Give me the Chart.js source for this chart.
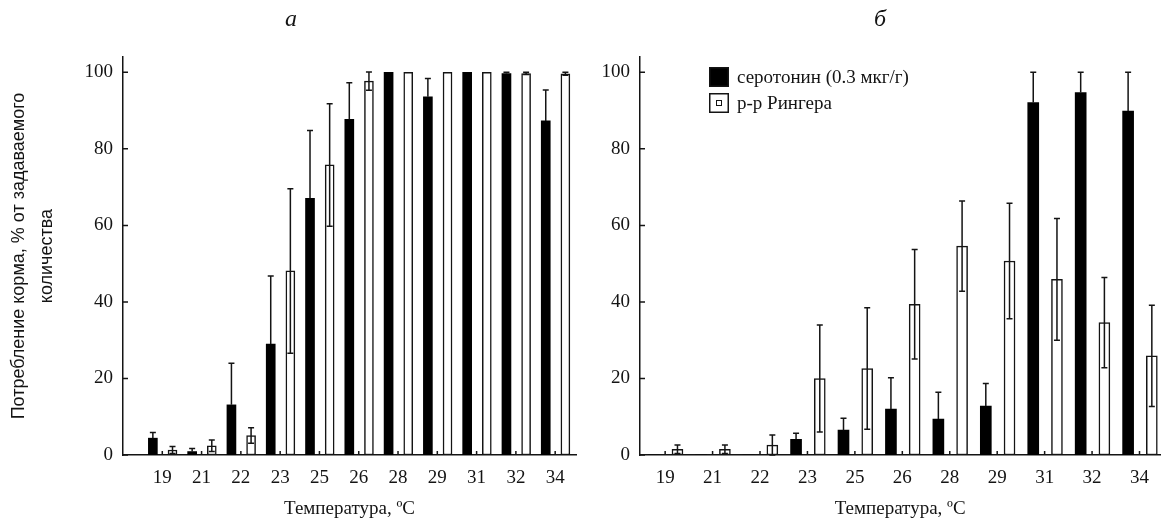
<!DOCTYPE html>
<html lang="ru">
<head>
<meta charset="UTF-8">
<title>Потребление корма</title>
<script src="https://cdn.jsdelivr.net/npm/chart.js"></script>
<style>
  html, body { margin: 0; padding: 0; background: #fff; }
  #wrap { position: relative; width: 1161px; height: 521px; overflow: hidden; }
  .box { position: absolute; top: 0; height: 521px; }
</style>
</head>
<body>
<div id="wrap">
  <div class="box" style="left:0;width:590px"><canvas id="chartA"></canvas></div>
  <div class="box" style="left:590px;width:571px"><canvas id="chartB"></canvas></div>
</div>
<script>
// температуры (подписи оси X)
const temps = ['19', '21', '22', '23', '25', '26', '28', '29', '31', '32', '34'];
const yTicks = [0, 20, 40, 60, 80, 100];

// панель а
const serA     = [4.4, 0.9, 13.1, 29.0, 67.1, 87.7, 100, 93.6, 100, 99.7, 87.3];
const serAErr  = [1.5, 0.8, 10.9, 17.8, 17.7, 9.6, 0, 4.8, 0, 0.3, 8.1];
const ringA    = [1.3, 2.4, 5.1, 48.1, 75.8, 97.7, 100, 100, 100, 99.7, 99.6];
const ringAErr = [0.9, 1.5, 2.0, 21.5, 16.0, 2.4, 0, 0, 0, 0.3, 0.4];

// панель б
const serB     = [0, 0, 0, 4.1, 6.5, 12.0, 9.4, 12.8, 92.1, 94.7, 89.9];
const serBErr  = [0, 0, 0, 1.6, 3.1, 8.2, 7.0, 5.9, 7.9, 5.3, 10.1];
const ringB    = [1.5, 1.5, 2.6, 20.0, 22.6, 39.4, 54.6, 50.7, 45.9, 34.6, 25.9];
const ringBErr = [1.1, 1.1, 2.6, 14.0, 15.9, 14.3, 11.8, 15.1, 15.9, 11.8, 13.2];

const serLabel = 'серотонин (0.3 мкг/г)';
const ringLabel = 'р-р Рингера';

const INK = '#141414';
const SERIF = 'Liberation Serif, Times New Roman, serif';

// усы погрешностей; у чёрных столбиков нижний ус всё равно не виден
const errorBars = {
  id: 'errorBars',
  afterDatasetsDraw(chart) {
    const ctx = chart.ctx, ys = chart.scales.y;
    chart.data.datasets.forEach((ds, di) => {
      chart.getDatasetMeta(di).data.forEach((bar, i) => {
        const e = ds.errors[i];
        if (!e) return;
        const v = ds.data[i].y;
        const top = ys.getPixelForValue(v + e);
        const bot = ds.solid ? ys.getPixelForValue(v) : ys.getPixelForValue(Math.max(v - e, 0));
        ctx.save();
        ctx.strokeStyle = INK;
        ctx.lineWidth = 1.5;
        ctx.beginPath();
        ctx.moveTo(bar.x, top); ctx.lineTo(bar.x, bot);
        ctx.moveTo(bar.x - 3, top); ctx.lineTo(bar.x + 3, top);
        if (!ds.solid) { ctx.moveTo(bar.x - 3, bot); ctx.lineTo(bar.x + 3, bot); }
        ctx.stroke();
        ctx.restore();
      });
    });
  }
};

// короткие засечки внутрь области графика
const innerTicks = {
  id: 'innerTicks',
  afterDraw(chart) {
    const ctx = chart.ctx, xs = chart.scales.x, ys = chart.scales.y;
    const a = chart.chartArea;
    ctx.save();
    ctx.strokeStyle = INK;
    ctx.lineWidth = 1.5;
    ctx.beginPath();
    xs.ticks.forEach(t => {
      const px = xs.getPixelForValue(t.value);
      ctx.moveTo(px, a.bottom); ctx.lineTo(px, a.bottom - 4);
    });
    ys.ticks.forEach(t => {
      const py = ys.getPixelForValue(t.value);
      ctx.moveTo(a.left, py); ctx.lineTo(a.left + 5, py);
    });
    ctx.stroke();
    ctx.restore();
  }
};

// буква панели и легенда
const panelDecor = {
  id: 'panelDecor',
  afterDraw(chart, args, opts) {
    const ctx = chart.ctx;
    ctx.save();
    ctx.fillStyle = INK;
    ctx.font = 'italic 24px ' + SERIF;
    ctx.textAlign = 'center';
    ctx.textBaseline = 'middle';
    ctx.fillText(opts.letter, opts.letterX, 20);
    if (opts.legendX != null) {
      const x = opts.legendX;
      ctx.font = '19px ' + SERIF;
      ctx.textAlign = 'left';
      chart.data.datasets.forEach((ds, i) => {
        const top = 67 + i * 26;
        ctx.lineWidth = 1.5;
        ctx.strokeStyle = INK;
        ctx.fillStyle = ds.backgroundColor;
        ctx.fillRect(x, top, 20, 20);
        ctx.strokeRect(x + 0.75, top + 0.75, 18.5, 18.5);
        if (!ds.solid) {
          ctx.lineWidth = 1;
          ctx.strokeRect(x + 7.5, top + 7.5, 5, 5);
        }
        ctx.fillStyle = INK;
        ctx.fillText(ds.label, x + 28, top + 11);
      });
    }
    ctx.restore();
  }
};

function points(vals, shift) {
  return vals.map((v, i) => ({ x: i + shift, y: v }));
}

function makeChart(id, ser, serErr, ring, ringErr, cfg) {
  const yTitle = cfg.yTitle ? {
    display: true,
    text: cfg.yTitle,
    color: INK,
    font: { family: 'Liberation Sans, Arial, sans-serif', size: 18, lineHeight: 1.55 },
    padding: { top: 5, bottom: 0 }
  } : { display: false };

  return new Chart(document.getElementById(id), {
    type: 'bar',
    data: {
      datasets: [
        {
          label: serLabel,
          data: points(ser, -0.24),
          errors: serErr,
          solid: true,
          backgroundColor: '#000',
          borderColor: '#000',
          borderWidth: 0,
          barThickness: cfg.barW,
          grouped: false
        },
        {
          label: ringLabel,
          data: points(ring, 0.26),
          errors: ringErr,
          solid: false,
          backgroundColor: '#fff',
          borderColor: INK,
          borderWidth: 1.5,
          borderSkipped: false,
          barThickness: cfg.barW,
          grouped: false
        }
      ]
    },
    options: {
      responsive: true,
      maintainAspectRatio: false,
      animation: false,
      layout: { padding: { top: 57, right: cfg.padRight, left: 0, bottom: 0 } },
      plugins: {
        legend: { display: false },
        tooltip: { enabled: false },
        panelDecor: { letter: cfg.letter, letterX: cfg.letterX, legendX: cfg.legendX }
      },
      scales: {
        x: {
          type: 'linear',
          offset: false,
          min: cfg.xMin,
          max: cfg.xMax,
          grid: { display: false, drawTicks: false },
          border: { display: true, color: INK, width: 1.5 },
          afterBuildTicks: s => { s.ticks = temps.map((t, i) => ({ value: i })); },
          afterFit: s => { s.height = 66; },
          ticks: {
            autoSkip: false,
            maxRotation: 0,
            padding: 12,
            color: INK,
            font: { family: SERIF, size: 19 },
            callback: v => temps[v]
          },
          title: {
            display: true,
            text: 'Температура, ºC',
            color: INK,
            font: { family: SERIF, size: 19 },
            padding: { top: 1, bottom: 1 }
          }
        },
        y: {
          min: 0,
          max: 104,
          grid: { display: false, drawTicks: false },
          border: { display: true, color: INK, width: 1.5 },
          afterBuildTicks: s => { s.ticks = yTicks.map(v => ({ value: v })); },
          afterFit: s => { s.width = cfg.yWidth; },
          ticks: {
            padding: 10,
            color: INK,
            font: { family: SERIF, size: 19 }
          },
          title: yTitle
        }
      }
    },
    plugins: [errorBars, innerTicks, panelDecor]
  });
}

makeChart('chartA', serA, serAErr, ringA, ringAErr, {
  letter: 'а', letterX: 291, legendX: null,
  xMin: -1, xMax: 10.53, yWidth: 123, padRight: 14, barW: 9,
  yTitle: ['Потребление корма, % от задаваемого', 'количества']
});

makeChart('chartB', serB, serBErr, ringB, ringBErr, {
  letter: 'б', letterX: 290, legendX: 119,
  xMin: -0.53, xMax: 10.44, yWidth: 50, padRight: 0, barW: 11,
  yTitle: null
});
</script>
</body>
</html>
